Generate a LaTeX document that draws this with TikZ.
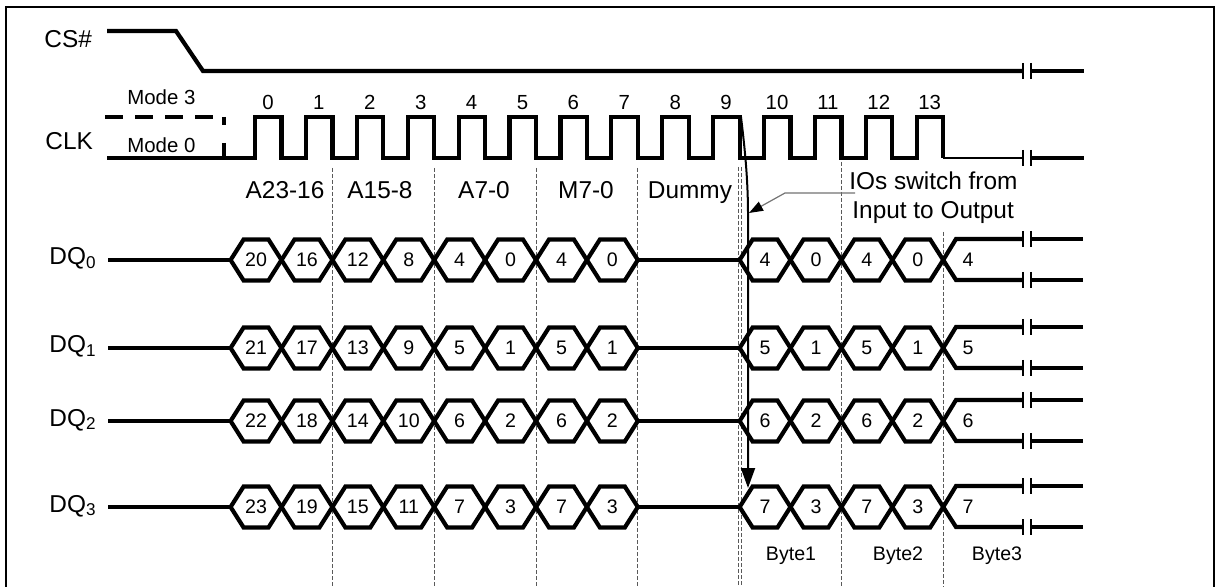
\documentclass[tikz,border=0pt]{standalone}
\usepackage{fontspec}
\setmainfont{Liberation Sans}
\usetikzlibrary{arrows.meta}
\begin{document}
\begin{tikzpicture}[x=0.5pt,y=-0.5pt,
  sig/.style={line width=2.1pt, line join=miter},
  sepline/.style={line width=0.5pt, black!65, dash pattern=on 2pt off 1pt},
  brk/.style={line width=1pt},
  lbl/.style={font=\fontsize{12.2}{14}\selectfont, inner sep=0pt},
  small/.style={font=\fontsize{10.2}{12}\selectfont, inner sep=0pt},
  hexnum/.style={font=\fontsize{9.8}{11}\selectfont, inner sep=0pt},
]
\useasboundingbox (0,0) rectangle (1220,587);
\fill[white] (0,0) rectangle (1220,587);
\draw[line width=0.6pt] (6,7) rectangle (1214,592);

% CS#
\node[lbl, anchor=base west] (cs) at (44,48) {CS\#};
\draw[sig] (107,31) -- (176,31) -- (203,71) -- (1023,71);
\draw[sig] (1031,71) -- (1084,71);
\draw[brk] (1023,63) -- (1023,79) (1031,63) -- (1031,79);

% CLK
\node[lbl, anchor=base west] (clk) at (45,150) {CLK};
\node[small, anchor=base west] (m3) at (127,105) {Mode 3};
\node[small, anchor=base west] (m0) at (127,153) {Mode 0};
\draw[sig, dash pattern=on 9pt off 6pt] (105,117) -- (213,117);
\draw[sig] (224,117) -- (224,125) (224,143) -- (224,158);
\draw[sig] (107,158) foreach \k in {0,...,13}{ -- ({255+50.9*\k},158) -- ({255+50.9*\k},117) -- ({281.5+50.9*\k},117) -- ({281.5+50.9*\k},158) };
\draw[line width=1.4pt] (943.2,158) -- (1023,158);
\draw[sig] (1031,158) -- (1084,158);
\draw[brk] (1023,150) -- (1023,166) (1031,150) -- (1031,166);
\foreach \k in {0,...,13} \node[small, anchor=base] (n\k) at ({268+50.9*\k},110) {\k};

% separators
\foreach \k/\ys in {1/168,3/168,5/168,7/168,11/162,13/232}
  \draw[sepline] ({281.5+50.9*\k},\ys) -- ({281.5+50.9*\k},590);
\draw[sepline] (738.3,167) -- (738.3,590);
\draw[sepline] (741.3,167) -- (741.3,590);

% section labels
\node[lbl, anchor=base] (s1) at (285,199) {A23-16};
\node[lbl, anchor=base] (s2) at (380,199) {A15-8};
\node[lbl, anchor=base] (s3) at (484,199) {A7-0};
\node[lbl, anchor=base] (s4) at (586,199) {M7-0};
\node[lbl, anchor=base] (s5) at (690,199) {Dummy};

% IO switch label
\node[lbl, anchor=base west] (ios1) at (849,190) {IOs switch from};
\node[lbl, anchor=base west] (ios2) at (852,219) {Input to Output};
\coordinate (lead) at (855,193);
\coordinate (tip) at (749,213);
\draw[black!55, line width=0.6pt, -{Triangle[length=7pt,width=5pt,color=black]}] (lead) -- (785,193) -- (tip);

% main arrow
\coordinate (c9) at (741,117);
\coordinate (a3) at (748,488);
\draw[line width=1pt, -{Triangle[length=10pt,width=7pt]}] (c9) .. controls (745,150) and (748,180) .. (748,215) -- (a3);

% DQ rows
\foreach \r/\yr in {0/260,1/348,2/421,3/507} {
  \node[lbl, anchor=base west] (dq\r) at (49,{\yr+5}) {DQ\textsubscript{\r}};
  \draw[sig] (108,\yr) -- (230.6,\yr);
  \foreach \k in {-1,...,6} {
    \pgfmathsetmacro\xa{281.5+50.9*\k}
    \pgfmathsetmacro\xb{\xa+50.9}
    \pgfmathtruncatemacro\ii{\k+1}
    \pgfmathtruncatemacro\vv{(\ii<6 ? 20-4*\ii : 28-4*\ii)+\r}
    \draw[sig] (\xa,\yr) -- ({\xa+13},{\yr-20.5}) -- ({\xb-13},{\yr-20.5}) -- (\xb,\yr) -- ({\xb-13},{\yr+20.5}) -- ({\xa+13},{\yr+20.5}) -- cycle;
    \node[hexnum] (h\r-\ii) at ({(\xa+\xb)/2},\yr) {\vv};
  }
  \draw[sig] (637.8,\yr) -- (739.6,\yr);
  \foreach \k in {9,...,12} {
    \pgfmathsetmacro\xa{281.5+50.9*\k}
    \pgfmathsetmacro\xb{\xa+50.9}
    \pgfmathtruncatemacro\vv{(mod(\k,2)==1 ? 4 : 0)+\r}
    \draw[sig] (\xa,\yr) -- ({\xa+13},{\yr-20.5}) -- ({\xb-13},{\yr-20.5}) -- (\xb,\yr) -- ({\xb-13},{\yr+20.5}) -- ({\xa+13},{\yr+20.5}) -- cycle;
    \node[hexnum] (o\r-\k) at ({(\xa+\xb)/2},\yr) {\vv};
  }
  \draw[sig] (1023,{\yr-21}) -- (956,{\yr-21}) -- (943.2,\yr) -- (956,{\yr+20}) -- (1023,{\yr+20});
  \draw[sig] (1031,{\yr-21}) -- (1083,{\yr-21}) (1031,{\yr+20}) -- (1083,{\yr+20});
  \draw[brk] (1023,{\yr-29}) -- (1023,{\yr-13}) (1031,{\yr-29}) -- (1031,{\yr-13});
  \draw[brk] (1023,{\yr+12}) -- (1023,{\yr+28}) (1031,{\yr+12}) -- (1031,{\yr+28});
  \pgfmathtruncatemacro\vl{4+\r}
  \node[hexnum] (e\r) at (968,\yr) {\vl};
}

% byte labels
\node[hexnum, anchor=base] (b1) at (791,560) {Byte1};
\node[hexnum, anchor=base] (b2) at (898,560) {Byte2};
\node[hexnum, anchor=base] (b3) at (997,560) {Byte3};
\end{tikzpicture}
\end{document}
